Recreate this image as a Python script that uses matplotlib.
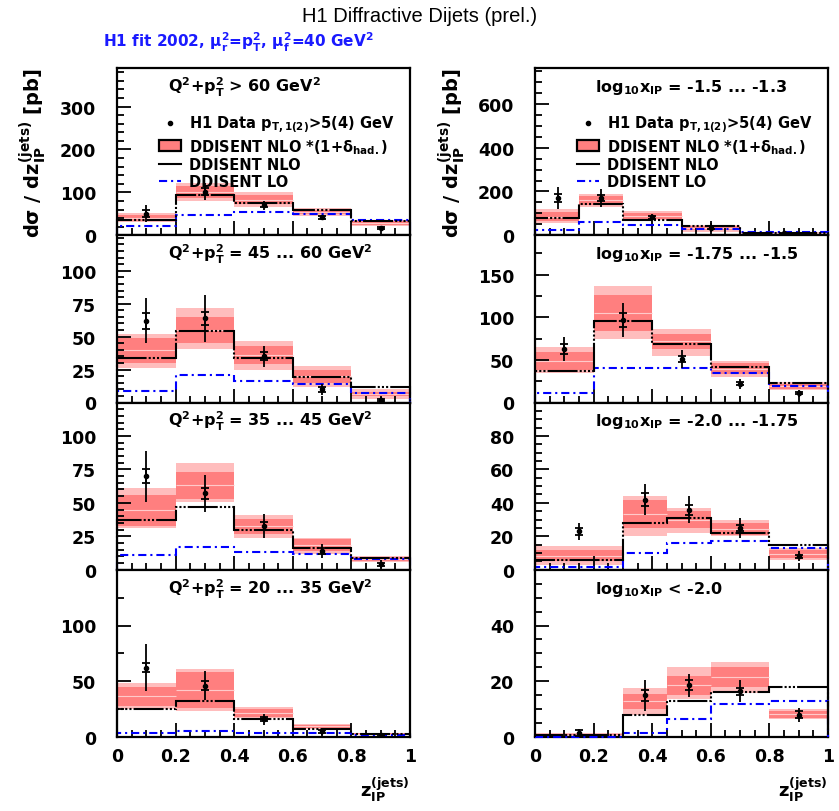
import numpy as np
import matplotlib
matplotlib.use("Agg")
import matplotlib.pyplot as plt
from matplotlib.lines import Line2D
from matplotlib.patches import Patch
from matplotlib.ticker import FixedLocator, MultipleLocator

plt.rcParams["font.family"] = ["DejaVu Sans"]
plt.rcParams["font.weight"] = "bold"
plt.rcParams["mathtext.fontset"] = "dejavusans"
plt.rcParams["mathtext.default"] = "bf"

# ---- bins in z_IP ----
edges_left = [[0.0, 0.2, 0.4, 0.6, 0.8, 1.0]] * 4
edges_right = [
    [0.0, 0.15, 0.3, 0.5, 0.7, 1.0],
    [0.0, 0.2, 0.4, 0.6, 0.8, 1.0],
    [0.0, 0.3, 0.45, 0.6, 0.8, 1.0],
    [0.0, 0.3, 0.45, 0.6, 0.8, 1.0],
]
zpts_left = [[0.1, 0.3, 0.5, 0.7, 0.9]] * 4
zpts_right = [
    [0.08, 0.225, 0.4, 0.6, 0.85],
    [0.1, 0.3, 0.5, 0.7, 0.9],
    [0.15, 0.375, 0.525, 0.7, 0.9],
    [0.15, 0.375, 0.525, 0.7, 0.9],
]

# ---- H1 data (value, total error, inner error) ----
data_left = [
    [50, 102, 70, 42, 17],
    [62, 64, 35, 10, 2],
    [70, 57, 33, 14, 4],
    [62, 46, 16, 5, 2],
]
tot_left = [
    [20, 20, 10, 6, 4],
    [17, 18, 8, 4, 2],
    [19, 14, 9, 5, 3],
    [21, 13, 5, 3, 2],
]
inner_left = [
    [8, 8, 5, 3, 2],
    [6, 5, 3, 2, 1],
    [5, 4, 3, 2, 1],
    [4, 4, 2, 1, 1],
]
data_right = [
    [170, 170, 82, 35, 8],
    [63, 97, 51, 22, 11],
    [23, 42, 36, 25, 8],
    [1.5, 15, 18.5, 16.4, 8],
]
tot_right = [
    [50, 42, 15, 20, 7],
    [14, 20, 10, 6, 4],
    [5, 9, 8, 6, 3],
    [1.5, 5.5, 4, 4, 2.5],
]
inner_right = [
    [20, 15, 6, 6, 3],
    [6, 8, 4, 2, 1.5],
    [2, 4, 3, 2, 1],
    [1, 2, 1.8, 1.2, 1.2],
]

# ---- DDISENT NLO*(1+delta_had) bands: outer / inner ----
out_lo_left = [[30, 81, 65, 45, 21], [26, 41, 25, 12, 3], [31, 51, 24, 12, 5.5], [25, 23, 17, 7, 2]]
out_hi_left = [[52, 121, 100, 64, 36], [52, 72, 47, 28, 10], [61, 80, 41, 24, 10.5], [48, 61, 27, 12, 4]]
in_lo_left = [[34, 88, 72, 49, 25], [30, 45, 29, 15, 5], [33, 53, 27, 14, 6.5], [28, 26, 18, 8, 2.5]]
in_hi_left = [[47, 116, 93, 60, 33], [49, 65, 43, 25, 8], [56, 73, 38, 23, 9.5], [45, 58, 25, 11, 3.5]]

out_lo_right = [[55, 130, 70, 17, 3], [34, 74, 55, 30, 15], [3, 20, 22, 20, 6], [0, 8, 13.5, 15.8, 6.3]]
out_hi_right = [[118, 190, 110, 47, 15], [65, 137, 86, 49, 24], [14, 44, 37, 30, 13], [1.5, 17.6, 25, 27, 9.9]]
in_lo_right = [[64, 140, 75, 22, 5], [38, 84, 63, 33, 16], [5, 25, 25, 21, 7], [0.3, 10, 15, 18, 6.9]]
in_hi_right = [[105, 180, 100, 40, 12], [59, 126, 80, 46, 22], [12, 42, 35, 28, 12], [1.2, 15.6, 22, 25, 9.3]]

# ---- DDISENT NLO and LO ----
nlo_left = [[36, 93, 76, 60, 34], [34, 54, 34, 19, 12], [37, 47, 30, 16, 9], [25.5, 32, 16, 7, 3]]
lo_left = [[21, 48, 55, 50, 35], [9, 21, 16, 14, 7], [11, 17, 13, 12, 8], [4, 5, 4, 4, 2]]
nlo_right = [[80, 145, 70, 44, 12], [37, 95, 69, 42, 23], [6, 28, 31, 22, 15], [0.7, 7.9, 12.9, 16.2, 17.9]]
lo_right = [[26, 62, 45, 30, 15], [11, 40, 40, 35, 19], [1.5, 10, 16, 17, 13], [0.1, 1.5, 6.3, 11.9, 13]]

# ---- axes ----
ymax_left = [390, 127, 125, 150]
ymax_right = [764, 196, 100, 60]
yticks_left = [[0, 100, 200, 300], [0, 25, 50, 75, 100], [0, 25, 50, 75, 100], [0, 50, 100]]
yticks_right = [[0, 200, 400, 600], [0, 50, 100, 150], [0, 20, 40, 60, 80], [0, 20, 40]]
yminor_left = [20, 5, 5, 25]
yminor_right = [50, 25, 5, 5]
xticks = [0, 0.2, 0.4, 0.6, 0.8, 1]
xtick_labels = ["0", "0.2", "0.4", "0.6", "0.8", "1"]

labels_left = [
    r"Q$^2$+p$_T^2$ > 60 GeV$^2$",
    r"Q$^2$+p$_T^2$ = 45 ... 60 GeV$^2$",
    r"Q$^2$+p$_T^2$ = 35 ... 45 GeV$^2$",
    r"Q$^2$+p$_T^2$ = 20 ... 35 GeV$^2$",
]
labels_right = [
    r"log$_{10}$x$_{IP}$ = -1.5 ... -1.3",
    r"log$_{10}$x$_{IP}$ = -1.75 ... -1.5",
    r"log$_{10}$x$_{IP}$ = -2.0 ... -1.75",
    r"log$_{10}$x$_{IP}$ < -2.0",
]

PINK = "#ffbdbd"
RED = "#ff7f7f"
BLUE = "#0000ff"
NLO_DASH = (0, (14.4, 1, 1, 1, 1, 1, 1, 1))
LO_DASH = (0, (3.9, 1.9, 1.0, 1.9))


def draw_panel(ax, edges, zpts, dat, tot, inner, olo, ohi, ilo, ihi, nlo, lo):
    edges = np.asarray(edges)
    left = edges[:-1]
    width = np.diff(edges)
    olo, ohi, ilo, ihi = map(np.asarray, (olo, ohi, ilo, ihi))
    ax.bar(left, ohi - olo, bottom=olo, width=width, align="edge",
           color=PINK, lw=0, zorder=1)
    ax.bar(left, ihi - ilo, bottom=ilo, width=width, align="edge",
           color=RED, lw=0, zorder=1.1)
    ax.hlines((ilo + ihi) / 2, left, edges[1:], color="#ffcaca", lw=0.8, zorder=1.2)
    ax.stairs(lo, edges, baseline=0, color=BLUE, lw=1.5, ls=LO_DASH,
              zorder=3, clip_on=False)
    ax.stairs(nlo, edges, baseline=0, color="black", lw=1.5, ls=NLO_DASH,
              zorder=3.1, clip_on=False)
    ax.errorbar(zpts, dat, yerr=tot, fmt="o", ms=3, color="black",
                elinewidth=1.3, capsize=0, zorder=4)
    ax.errorbar(zpts, dat, yerr=inner, fmt="none", ecolor="black",
                elinewidth=1.3, capsize=3, capthick=1.3, zorder=4)


def style_axes(ax, ymax, yt, yminor, bottom_row):
    ax.set_xlim(0, 1)
    ax.set_ylim(0, ymax)
    ax.yaxis.set_major_locator(FixedLocator(yt))
    ax.yaxis.set_minor_locator(MultipleLocator(yminor))
    ax.set_xticks(xticks)
    ax.xaxis.set_minor_locator(MultipleLocator(0.05))
    ax.tick_params(which="both", direction="in", top=False, right=False,
                   width=1.3, labelsize=12.5)
    ax.tick_params(which="major", length=10)
    ax.tick_params(which="minor", length=5)
    ax.tick_params(axis="y", pad=15)
    ax.tick_params(axis="x", pad=7)
    if bottom_row:
        ax.set_xticklabels(xtick_labels)
    else:
        ax.set_xticklabels([])
    for sp in ax.spines.values():
        sp.set_linewidth(1.6)


fig = plt.figure(figsize=(8.39, 8.12), dpi=100)
top = 1 - 69 / 812
bot = 1 - 738 / 812
h = (top - bot) / 4
cols = [
    (117 / 839, 293 / 839, edges_left, zpts_left, data_left, tot_left, inner_left,
     out_lo_left, out_hi_left, in_lo_left, in_hi_left, nlo_left, lo_left,
     ymax_left, yticks_left, yminor_left, labels_left, 0.175),
    (535 / 839, 293 / 839, edges_right, zpts_right, data_right, tot_right, inner_right,
     out_lo_right, out_hi_right, in_lo_right, in_hi_right, nlo_right, lo_right,
     ymax_right, yticks_right, yminor_right, labels_right, 0.205),
]

legend_handles = [
    Line2D([], [], marker="o", ms=3, ls="none", color="black"),
    Patch(facecolor=RED, edgecolor="black", lw=1.6),
    Line2D([], [], color="black", lw=1.5),
    Line2D([], [], color=BLUE, lw=1.5, ls=LO_DASH),
]
legend_labels = [
    r"H1 Data p$_{T,1(2)}$>5(4) GeV",
    r"DDISENT NLO *(1+$\delta_{had.}$)",
    "DDISENT NLO",
    "DDISENT LO",
]

for (x0, w, edges, zp, dat, tot, inn, olo, ohi, ilo, ihi, nlo, lo,
     ymax, yt, ymin_, labels, tx) in cols:
    for r in range(4):
        ax = fig.add_axes([x0, top - (r + 1) * h, w, h])
        draw_panel(ax, edges[r], zp[r], dat[r], tot[r], inn[r],
                   olo[r], ohi[r], ilo[r], ihi[r], nlo[r], lo[r])
        style_axes(ax, ymax[r], yt[r], ymin_[r], r == 3)
        ax.text(tx, 0.89, labels[r], transform=ax.transAxes, ha="left",
                va="center", fontsize=11.5)
        if r == 0:
            ax.legend(legend_handles, legend_labels, loc="upper left",
                      bbox_to_anchor=(0.12, 0.77), frameon=False,
                      fontsize=10.5, handlelength=1.5, handleheight=0.8,
                      handletextpad=0.55, labelspacing=0.12, borderpad=0)

ylab = r"d$\sigma$ / dz$_{IP}^{(jets)}$ [pb]"
fig.text(33 / 839, 1 - 68 / 812, ylab, rotation=90, ha="center", va="top", fontsize=14)
fig.text(452 / 839, 1 - 68 / 812, ylab, rotation=90, ha="center", va="top", fontsize=14)
xlab = r"z$_{IP}^{(jets)}$"
fig.text(410 / 839, 1 - 790 / 812, xlab, ha="right", va="center", fontsize=13)
fig.text(828 / 839, 1 - 790 / 812, xlab, ha="right", va="center", fontsize=13)

fig.text(0.5, 1 - 17 / 812, "H1 Diffractive Dijets (prel.)", ha="center", va="center",
         fontsize=14.5, family="Liberation Sans", weight="normal")
fig.text(103 / 839, 1 - 42 / 812,
         r"H1 fit 2002, $\mu_r^2$=p$_T^2$, $\mu_f^2$=40 GeV$^2$",
         ha="left", va="center", fontsize=11, color="#1a1aff")

fig.savefig("out.png", dpi=100)
